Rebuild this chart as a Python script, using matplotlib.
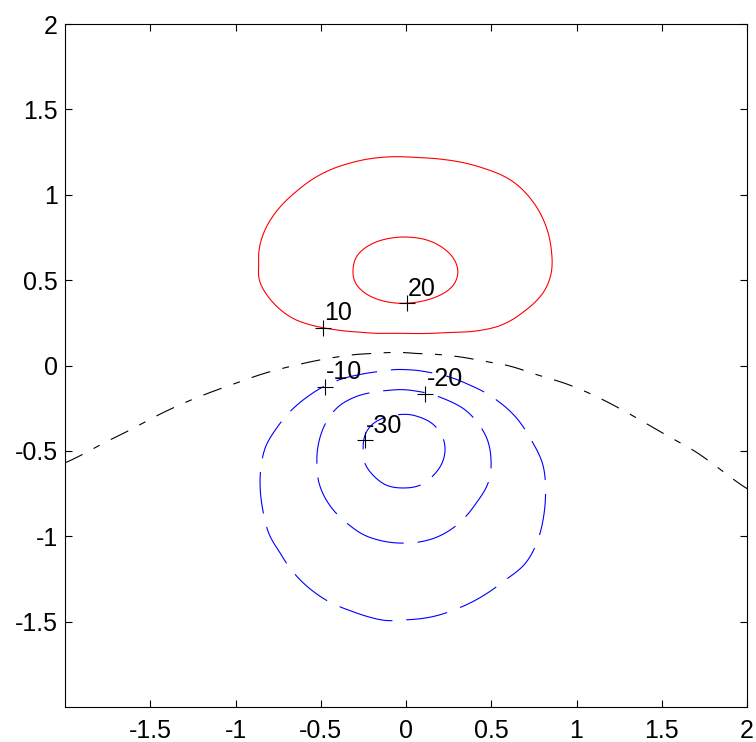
import numpy as np
import matplotlib
matplotlib.use("Agg")
import matplotlib.pyplot as plt

# ---------------- data (contour samples) ----------------
levels_pos = [10, 20]
levels_zero = [0]
levels_neg = [-30, -20, -10]

c10_x = [-0.863, -0.863, -0.863, -0.800, -0.722, -0.643, -0.486, -0.349, -0.173, 0.141, 0.376, 0.533,
         0.690, 0.808, 0.853, 0.853, 0.818, 0.729, 0.612, 0.455, 0.239, 0.063, -0.153, -0.329, -0.506,
         -0.643, -0.761, -0.839]
c10_y = [0.510, 0.588, 0.667, 0.393, 0.315, 0.266, 0.221, 0.201, 0.188, 0.188, 0.198, 0.227,
         0.315, 0.432, 0.550, 0.667, 0.823, 0.979, 1.087, 1.155, 1.204, 1.218, 1.218, 1.185, 1.116,
         1.019, 0.901, 0.764]

c20_x = [-0.310, -0.300, -0.251, -0.153, -0.035, 0.082, 0.200, 0.278, 0.304, 0.278, 0.220, 0.122,
         0.024, -0.094, -0.212, -0.290]
c20_y = [0.559, 0.491, 0.432, 0.383, 0.364, 0.374, 0.412, 0.471, 0.550, 0.628, 0.686, 0.735,
         0.751, 0.745, 0.706, 0.638]

cm30_x = [-0.251, -0.241, -0.192, -0.094, 0.024, 0.141, 0.210, 0.229, 0.210, 0.161, 0.082, -0.016,
          -0.114, -0.192, -0.241]
cm30_y = [-0.487, -0.409, -0.340, -0.295, -0.287, -0.330, -0.409, -0.487, -0.575, -0.643, -0.702, -0.717,
          -0.702, -0.643, -0.575]

cm20_x = [-0.522, -0.506, -0.467, -0.388, -0.271, -0.094, 0.063, 0.220, 0.337, 0.416, 0.475, 0.498,
          0.484, 0.416, 0.318, 0.181, -0.016, -0.173, -0.261, -0.329, -0.447, -0.516]
cm20_y = [-0.585, -0.428, -0.330, -0.233, -0.174, -0.145, -0.151, -0.194, -0.252, -0.330, -0.428, -0.545,
          -0.682, -0.799, -0.917, -1.005, -1.040, -1.019, -0.985, -0.937, -0.819, -0.663]

cm10_x = [-0.855, -0.849, -0.820, -0.761, -0.682, -0.565, -0.447, -0.290, -0.173, -0.055, 0.063, 0.220,
          0.376, 0.533, 0.651, 0.729, 0.798, 0.818, 0.808, 0.769, 0.690, 0.592, 0.455, 0.298, 0.141,
          -0.016, -0.114, -0.212, -0.329, -0.447, -0.525, -0.692, -0.741, -0.800, -0.839]
cm10_y = [-0.721, -0.585, -0.467, -0.370, -0.272, -0.174, -0.106, -0.057, -0.037, -0.023, -0.028, -0.057,
          -0.116, -0.204, -0.311, -0.428, -0.565, -0.721, -0.878, -1.034, -1.171, -1.249, -1.347, -1.425,
          -1.474, -1.490, -1.494, -1.474, -1.435, -1.386, -1.337, -1.171, -1.093, -0.995, -0.849]

c0_x = [-1.966, -1.761, -1.604, -1.447, -1.251, -0.976, -0.800, -0.663, -0.457, -0.290, 0.063, 0.353,
        0.588, 0.745, 0.922, 1.078, 1.235, 1.392, 1.529, 1.686, 1.824, 2.000]
c0_y = [-0.555, -0.448, -0.370, -0.287, -0.198, -0.096, -0.037, -0.002, 0.041, 0.065, 0.070, 0.045,
        0.002, -0.047, -0.101, -0.164, -0.242, -0.330, -0.409, -0.497, -0.594, -0.721]

# estimated extreme values and far-field values
ext_x = [0.0, 0.0]
ext_y = [0.555, -0.505]
ext_v = [23.0, -33.0]

far_x = [-2.0, 0.0, 2.0, -2.0, 2.0, -2.0, 0.0, 2.0, -2.0, 2.0]
far_y = [2.0, 2.0, 2.0, 0.7, 0.7, -2.0, -2.0, -2.0, -1.3, -1.4]
far_v = [3.0, 5.0, 3.0, 3.0, 3.0, -4.0, -6.0, -4.0, -2.0, -2.0]

# contour labels (MATLAB clabel style "+" markers)
lab_x = [-0.486, 0.004, -0.476, 0.112, -0.241]
lab_y = [0.218, 0.364, -0.125, -0.164, -0.438]
lab_v = [10, 20, -10, -20, -30]

xticks = [-1.5, -1, -0.5, 0, 0.5, 1, 1.5, 2]
xtick_labels = ['-1.5', '-1', '-0.5', '0', '0.5', '1', '1.5', '2']
yticks = [-1.5, -1, -0.5, 0, 0.5, 1, 1.5, 2]
ytick_labels = ['-1.5', '-1', '-0.5', '0', '0.5', '1', '1.5', '2']

# ---------------- build the scalar field from the samples ----------------
px = np.concatenate([c10_x, c20_x, cm30_x, cm20_x, cm10_x, c0_x, ext_x, far_x]).astype(float)
py = np.concatenate([c10_y, c20_y, cm30_y, cm20_y, cm10_y, c0_y, ext_y, far_y]).astype(float)
pv = np.concatenate([np.full(len(c10_x), 10.0), np.full(len(c20_x), 20.0),
                     np.full(len(cm30_x), -30.0), np.full(len(cm20_x), -20.0),
                     np.full(len(cm10_x), -10.0), np.full(len(c0_x), 0.0),
                     ext_v, far_v]).astype(float)


def tps_kernel(r):
    with np.errstate(divide='ignore', invalid='ignore'):
        k = r ** 2 * np.log(r)
    return np.where(r > 0, k, 0.0)


n = len(px)
lam = 1e-3
D = np.hypot(px[:, None] - px[None, :], py[:, None] - py[None, :])
A = np.zeros((n + 3, n + 3))
A[:n, :n] = tps_kernel(D) + lam * np.eye(n)
P = np.column_stack([np.ones(n), px, py])
A[:n, n:] = P
A[n:, :n] = P.T
b = np.concatenate([pv, np.zeros(3)])
coef = np.linalg.solve(A, b)

g = np.linspace(-2, 2, 281)
X, Y = np.meshgrid(g, g)
xf, yf = X.ravel(), Y.ravel()
Dg = np.hypot(xf[:, None] - px[None, :], yf[:, None] - py[None, :])
Z = (tps_kernel(Dg) @ coef[:n] + coef[n] + coef[n + 1] * xf + coef[n + 2] * yf).reshape(X.shape)

# ---------------- plot ----------------
plt.rcParams['font.family'] = ['Liberation Sans', 'DejaVu Sans']
plt.rcParams['axes.unicode_minus'] = False
plt.rcParams['lines.scale_dashes'] = False

FS = 18

fig = plt.figure(figsize=(7.56, 7.42), dpi=100)
ax = fig.add_axes([65 / 756, 35 / 742, 682 / 756, 683 / 742])

cs_pos = ax.contour(X, Y, Z, levels=levels_pos, colors='#ff0000', linewidths=0.8)
cs_zero = ax.contour(X, Y, Z, levels=levels_zero, colors='#000000', linewidths=0.8)
cs_zero.set_linestyle((0, (14, 9, 5, 9)))
cs_neg = ax.contour(X, Y, Z, levels=levels_neg, colors='#0000ff', linewidths=0.8)
cs_neg.set_linestyle((0, (30, 10)))

ax.plot(lab_x, lab_y, linestyle='none', marker='+', markersize=12, markeredgewidth=0.8, color='black')
for x, y, v in zip(lab_x, lab_y, lab_v):
    ax.annotate(str(v), (x, y), xytext=(1.0, 2.0), textcoords='offset points',
                ha='left', va='bottom', fontsize=FS, color='black')

ax.set_xlim(-2, 2)
ax.set_ylim(-2, 2)
ax.set_xticks(xticks)
ax.set_xticklabels(xtick_labels)
ax.set_yticks(yticks)
ax.set_yticklabels(ytick_labels)
ax.tick_params(direction='in', top=True, right=True, length=5, width=0.8,
               labelsize=FS, colors='black')
ax.tick_params(axis='x', pad=9)
ax.tick_params(axis='y', pad=5)
for s in ax.spines.values():
    s.set_linewidth(0.8)

fig.savefig('out.png', dpi=100)
